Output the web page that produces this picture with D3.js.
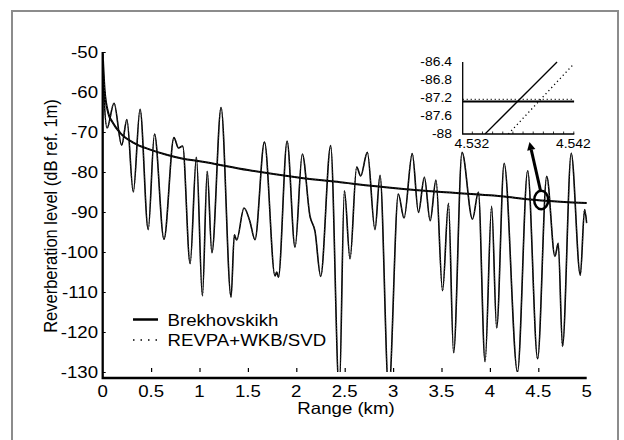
<!DOCTYPE html>
<html>
<head>
<meta charset="utf-8">
<script src="https://cdn.jsdelivr.net/npm/d3@7"></script>
<style>
  body { margin: 0; background: #fff; }
  text { font-family: Arial, "Liberation Sans", sans-serif; fill: #000; }
</style>
</head>
<body>
<script>
// coherent reverberation level (oscillating curve)
var rangeKm = [0, 0.012, 0.045, 0.117, 0.196, 0.25, 0.316, 0.386, 0.47, 0.535, 0.633, 0.736, 0.783, 0.826, 0.903,
  0.968, 1.03, 1.08, 1.128, 1.223, 1.326, 1.36, 1.384, 1.46, 1.52, 1.573, 1.671, 1.78, 1.797, 1.815, 1.905,
  1.987, 2.062, 2.141, 2.193, 2.252, 2.355, 2.444, 2.497, 2.555, 2.624, 2.665, 2.734, 2.813, 2.865, 2.955,
  3.054, 3.113, 3.198, 3.262, 3.323, 3.383, 3.443, 3.511, 3.572, 3.625, 3.712, 3.82, 3.881, 3.95, 4.018,
  4.07, 4.147, 4.285, 4.39, 4.493, 4.587, 4.672, 4.706, 4.75, 4.84, 4.934, 4.978, 5.0];
var levelDb = [-50.5, -60, -69, -62.8, -73.3, -66.9, -85, -64.3, -94.4, -70.5, -96.8, -71.4, -74, -73.5, -102.9,
  -76.3, -111, -79.8, -100.2, -63.9, -111.3, -95.7, -97, -89, -92.3, -96.9, -72.5, -106, -105, -106.3, -72.3,
  -98.8, -75.5, -91, -94.8, -106.1, -73.4, -135, -84.7, -101.7, -78.75, -81, -75.1, -94.4, -80.8, -135,
  -85.5, -91.5, -75.4, -90.1, -81.3, -92.2, -82, -109.7, -87.8, -125.2, -75.1, -91.8, -85, -127.4, -88.6,
  -119, -77.8, -130, -79.7, -126.7, -81.1, -101.1, -97.8, -123.6, -75.3, -105.8, -89.4, -92.8];

// incoherent (smooth) level
var smoothKm = [0.003, 0.02, 0.058, 0.1, 0.18, 0.32, 0.49, 0.66, 0.83, 1.0, 1.5, 2.0, 2.5, 3.0, 3.5, 4.0, 4.53, 5.0];
var smoothDb = [-52, -59.5, -65.3, -67.5, -70.2, -72.7, -74.4, -75.7, -76.7, -77.3, -79.5, -81.3, -82.7, -84.0,
  -85.0, -85.8, -87.1, -87.75];

var xTicks = [0, 0.5, 1, 1.5, 2, 2.5, 3, 3.5, 4, 4.5, 5];
var yTicks = [-50, -60, -70, -80, -90, -100, -110, -120, -130];

// zoomed inset near 4.53 km
var insetXTicks = [4.532, 4.542];
var insetYTicks = [-86.4, -86.8, -87.2, -87.6, -88];
var insetLevelSolid = -87.28, insetLevelDotted = -87.23;
var insetSolidKm = [4.5333, 4.5404], insetSolidDb = [-88, -86.4];
var insetDottedKm = [4.5356, 4.5421], insetDottedDb = [-88, -86.43];

var legendNames = ['Brekhovskikh', 'REVPA+WKB/SVD'];

var width = 624, height = 440;
var svg = d3.select('body').append('svg')
  .attr('width', width)
  .attr('height', height);

svg.append('rect')
  .attr('x', 12).attr('y', 11)
  .attr('width', 606).attr('height', 440)
  .attr('fill', '#fff')
  .attr('stroke', '#8c8c8c')
  .attr('stroke-width', 2);

var x = d3.scaleLinear().domain([0, 5]).range([102.7, 586.7]);
var y = d3.scaleLinear().domain([-131.5, -50]).range([378, 52]);

function label(g, px, py, str, size, anchor) {
  return g.append('text')
    .attr('transform', `translate(${px},${py}) scale(1.13,1)`)
    .attr('text-anchor', anchor)
    .attr('font-size', size)
    .text(str);
}

// clip for the curves
svg.append('clipPath').attr('id', 'plotclip')
  .append('rect')
  .attr('x', x(0)).attr('y', y(-50) - 2)
  .attr('width', x(5) - x(0) + 1).attr('height', y(-130) - y(-50) + 2);

var plot = svg.append('g').attr('clip-path', 'url(#plotclip)');

var osc = rangeKm.map((r, i) => [r, levelDb[i]]);
var smooth = smoothKm.map((r, i) => [r, smoothDb[i]]);

var oscLine = d3.line().x(d => x(d[0])).y(d => y(d[1])).curve(d3.curveMonotoneX);
var smoothLine = d3.line().x(d => x(d[0])).y(d => y(d[1])).curve(d3.curveMonotoneX);

plot.append('path').attr('d', oscLine(osc))
  .attr('fill', 'none').attr('stroke', '#000').attr('stroke-width', 1.6);
plot.append('path').attr('d', oscLine(osc))
  .attr('fill', 'none').attr('stroke', '#333').attr('stroke-width', 1.1).attr('stroke-dasharray', '1,2');
plot.append('path').attr('d', smoothLine(smooth))
  .attr('fill', 'none').attr('stroke', '#000').attr('stroke-width', 2);
plot.append('path').attr('d', smoothLine(smooth))
  .attr('fill', 'none').attr('stroke', '#333').attr('stroke-width', 1).attr('stroke-dasharray', '1,2');

// axes
var xAxis = d3.axisBottom(x).tickValues(xTicks.slice(1, -1)).tickSize(-4).tickFormat('');
svg.append('g').attr('transform', `translate(0,${y(-130)})`).call(xAxis)
  .call(g => g.select('.domain').remove())
  .call(g => g.selectAll('line').attr('stroke', '#000').attr('stroke-width', 1.2));

var yAxis = d3.axisLeft(y).tickValues(yTicks).tickSize(-3).tickFormat('');
svg.append('g').attr('transform', `translate(${x(0)},0)`).call(yAxis)
  .call(g => g.select('.domain').remove())
  .call(g => g.selectAll('line').attr('stroke', '#000').attr('stroke-width', 1));

svg.append('path')
  .attr('d', `M${x(0)},${y(-50)}V${y.range()[0]}H${x(5)}`)
  .attr('fill', 'none').attr('stroke', '#000').attr('stroke-width', 2.3);

xTicks.forEach(v => label(svg, x(v), 397, String(v), 16.5, 'middle'));
yTicks.forEach(v => label(svg, 98, y(v), String(v), 16.5, 'end').attr('dy', '0.36em'));

label(svg, 346, 414, 'Range (km)', 16.5, 'middle');
svg.append('text')
  .attr('transform', 'translate(56.5,216) scale(1.13,1) rotate(-90)')
  .attr('text-anchor', 'middle')
  .attr('font-size', 16.5)
  .text('Reverberation level (dB ref. 1m)');

// legend
svg.append('line').attr('x1', 133).attr('x2', 158).attr('y1', 319.5).attr('y2', 319.5)
  .attr('stroke', '#000').attr('stroke-width', 2.5);
svg.append('line').attr('x1', 133).attr('x2', 159).attr('y1', 340).attr('y2', 340)
  .attr('stroke', '#000').attr('stroke-width', 1.6).attr('stroke-dasharray', '1.5,6');
label(svg, 167.5, 326, legendNames[0], 16.5, 'start');
label(svg, 167.5, 345.8, legendNames[1], 16.5, 'start');

// circle + arrow pointing to the inset
var cx = x(4.53), cy = y(-87.0);
svg.append('ellipse').attr('cx', cx).attr('cy', cy).attr('rx', 7).attr('ry', 9.2)
  .attr('fill', 'none').attr('stroke', '#000').attr('stroke-width', 2.5);

var tip = [529.5, 142], start = [cx - 0.5, cy - 8.5];
var dx = tip[0] - start[0], dy = tip[1] - start[1], len = Math.hypot(dx, dy);
var ux = dx / len, uy = dy / len, head = 8, half = 4.2;
var bx = tip[0] - head * ux, by = tip[1] - head * uy;
svg.append('line').attr('x1', start[0]).attr('y1', start[1]).attr('x2', bx).attr('y2', by)
  .attr('stroke', '#000').attr('stroke-width', 3);
svg.append('path')
  .attr('d', `M${tip[0]},${tip[1]}L${bx - half * uy},${by + half * ux}L${bx + half * uy},${by - half * ux}Z`)
  .attr('fill', '#000');

// inset
var ix = d3.scaleLinear().domain([4.5311, 4.5421]).range([462.7, 574.3]);
var iy = d3.scaleLinear().domain([-88, -86.4]).range([134, 62]);
var inset = svg.append('g');

inset.append('clipPath').attr('id', 'insetclip').append('rect')
  .attr('x', ix.range()[0]).attr('y', iy(-86.4) - 1)
  .attr('width', ix.range()[1] - ix.range()[0]).attr('height', iy(-88) - iy(-86.4) + 1);
var ip = inset.append('g').attr('clip-path', 'url(#insetclip)');

var iLine = d3.line().x(d => ix(d[0])).y(d => iy(d[1]));
ip.append('path').attr('d', iLine([[ix.domain()[0], insetLevelSolid], [ix.domain()[1], insetLevelSolid]]))
  .attr('stroke', '#000').attr('stroke-width', 2);
ip.append('path').attr('d', iLine([[ix.domain()[0], insetLevelDotted], [ix.domain()[1], insetLevelDotted]]))
  .attr('stroke', '#000').attr('stroke-width', 1.4).attr('stroke-dasharray', '1,3');
ip.append('path').attr('d', iLine(insetSolidKm.map((r, i) => [r, insetSolidDb[i]])))
  .attr('stroke', '#000').attr('stroke-width', 1.3);
ip.append('path').attr('d', iLine(insetDottedKm.map((r, i) => [r, insetDottedDb[i]])))
  .attr('stroke', '#000').attr('stroke-width', 1.3).attr('stroke-dasharray', '1.2,3');

inset.append('g').attr('transform', `translate(0,${iy(-88)})`)
  .call(d3.axisBottom(ix).tickValues(d3.range(4.532, 4.5425, 0.001)).tickSize(-2.5).tickFormat(''))
  .call(g => g.select('.domain').remove())
  .call(g => g.selectAll('line').attr('stroke', '#000').attr('stroke-width', 0.8));

inset.append('path')
  .attr('d', `M${ix.range()[0]},${iy(-86.4)}V${iy(-88)}H${ix.range()[1]}`)
  .attr('fill', 'none').attr('stroke', '#000').attr('stroke-width', 1.3);

insetXTicks.forEach(v => label(inset, ix(v), 147.5, v.toFixed(3), 12.3, 'middle'));
insetYTicks.forEach(v => label(inset, 452, iy(v), String(v), 12.3, 'end').attr('dy', '0.36em'));
</script>
</body>
</html>
